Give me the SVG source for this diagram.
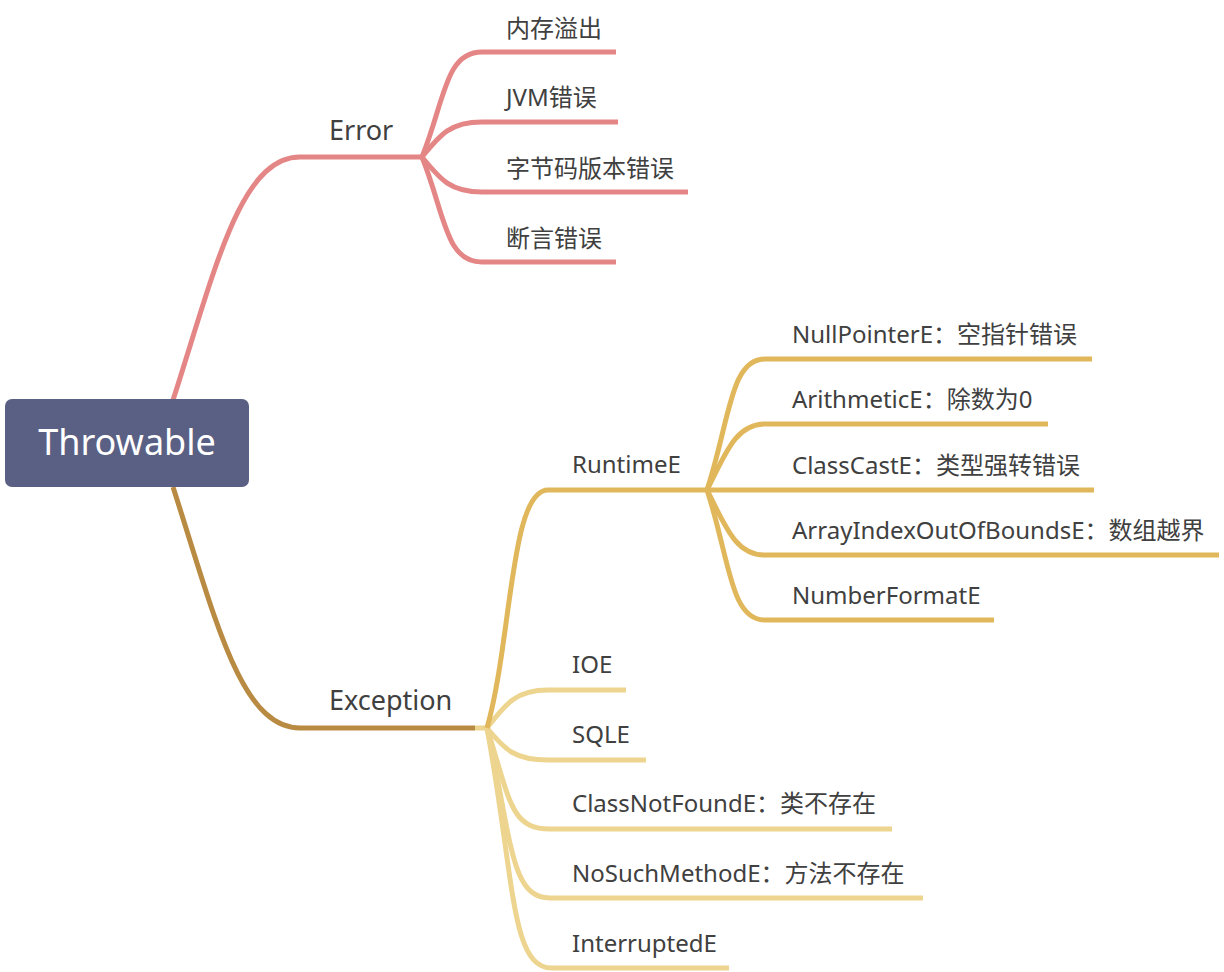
<svg xmlns="http://www.w3.org/2000/svg" width="1224" height="972" viewBox="0 0 1224 972">
<style>
  text { font-family: "Noto Sans", "Noto Sans CJK SC", sans-serif; fill: #404040; }
  .l1 { font-size: 27px; }
  .l2 { font-size: 24px; }
  .root { font-size: 36px; fill: #ffffff; text-anchor: middle; }
  path { fill: none; stroke-width: 5; stroke-linecap: butt; }
  .err { stroke: #e58686; }
  .exc { stroke: #b98b42; }
  .rt { stroke: #e1b75c; }
  .lt { stroke: #edd48f; }
</style>
<rect width="1224" height="972" fill="#ffffff"/>
<g id="connectors">
  <path class="err" d="M173,400 C215,270 240,157 300,157 H422"/>
  <path class="exc" d="M173,487 C215,617 240,728 300,728 H475"/>
  <path class="err" d="M422,157 C445,100 445,52 482,52 H616"/>
  <path class="err" d="M422,157 C440,135 450,122 482,122 H618"/>
  <path class="err" d="M422,157 C440,179 450,192 482,192 H688"/>
  <path class="err" d="M422,157 C445,214 445,262 482,262 H616"/>
  <path class="lt" d="M475,728 H487"/>
  <path class="lt" d="M487,728 C505,705 515,690 548,690 H626"/>
  <path class="lt" d="M487,728 C505,750 515,760 548,760 H646"/>
  <path class="lt" d="M487,728 C510,800 510,829 550,829 H892"/>
  <path class="lt" d="M487,728 C512,840 510,898 550,898 H923"/>
  <path class="lt" d="M487,728 C515,880 510,968 552,968 H729"/>
  <path class="rt" d="M487,728 C512,640 510,490 548,490 H707"/>
  <path class="rt" d="M707,490 C730,420 730,359 765,359 H1092"/>
  <path class="rt" d="M707,490 C725,455 735,424 765,424 H1048"/>
  <path class="rt" d="M707,490 H1094"/>
  <path class="rt" d="M707,490 C725,525 735,555 765,555 H1219"/>
  <path class="rt" d="M707,490 C730,560 730,620 765,620 H994"/>
</g>
<g id="root">
  <rect x="5" y="399" width="244" height="88" rx="7" fill="#5a6084"/>
  <text class="root" x="127" y="455">Throwable</text>
</g>
<g id="error"><text class="l1" x="329" y="140">Error</text></g>
<g id="exception"><text class="l1" x="329" y="710">Exception</text></g>
<g id="e1"><text class="l2" x="506" y="37">内存溢出</text></g>
<g id="e2"><text class="l2" x="506" y="106">JVM错误</text></g>
<g id="e3"><text class="l2" x="506" y="177">字节码版本错误</text></g>
<g id="e4"><text class="l2" x="506" y="247">断言错误</text></g>
<g id="runtime"><text class="l2" x="572" y="473">RuntimeE</text></g>
<g id="r1"><text class="l2" x="792" y="343">NullPointerE：空指针错误</text></g>
<g id="r2"><text class="l2" x="792" y="408">ArithmeticE：除数为0</text></g>
<g id="r3"><text class="l2" x="792" y="474">ClassCastE：类型强转错误</text></g>
<g id="r4"><text class="l2" x="792" y="539">ArrayIndexOutOfBoundsE：数组越界</text></g>
<g id="r5"><text class="l2" x="792" y="604">NumberFormatE</text></g>
<g id="x1"><text class="l2" x="572" y="673">IOE</text></g>
<g id="x2"><text class="l2" x="572" y="743">SQLE</text></g>
<g id="x3"><text class="l2" x="572" y="812">ClassNotFoundE：类不存在</text></g>
<g id="x4"><text class="l2" x="572" y="882">NoSuchMethodE：方法不存在</text></g>
<g id="x5"><text class="l2" x="572" y="952">InterruptedE</text></g>
</svg>
